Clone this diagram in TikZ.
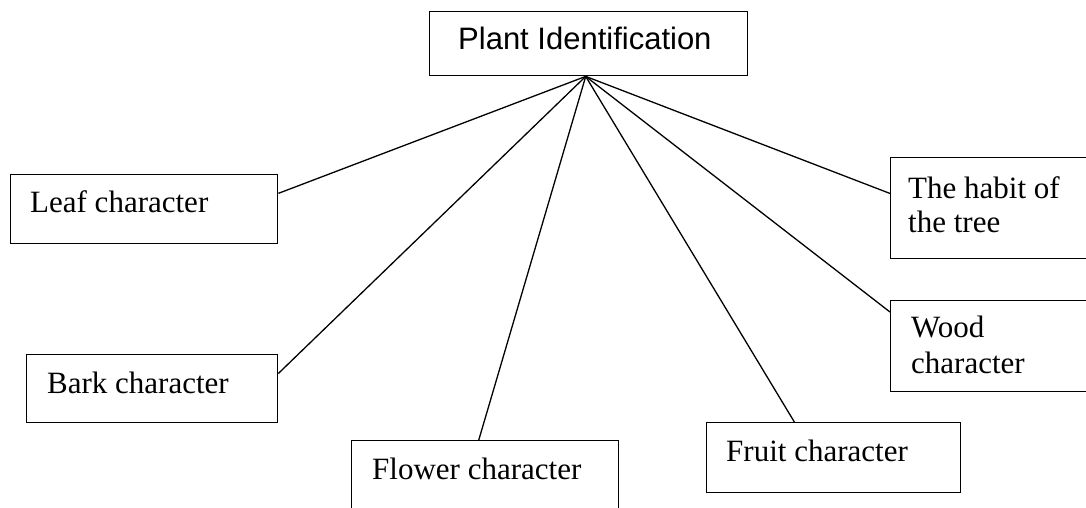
\documentclass[tikz,border=0pt]{standalone}
\usepackage{fontspec}
\setmainfont{Liberation Serif}
\newfontfamily\titlefont{Liberation Sans}
\usetikzlibrary{calc}
\begin{document}
\begin{tikzpicture}[x=1pt,y=-1pt,
  box/.style={draw, line width=1.4pt, rectangle, inner sep=0pt, anchor=north west},
  label/.style={anchor=base west, inner sep=0pt, align=left,
                font=\fontsize{31}{34}\selectfont},
  link/.style={line width=1.3pt}]
\useasboundingbox (0,0) rectangle (1086,508);
\clip (0,0) rectangle (1086,508);

% frames
\node[box, minimum width=318pt, minimum height=64pt]  (root)   at (429,11)  {};
\node[box, minimum width=267pt, minimum height=69pt]  (leaf)   at (10,174)  {};
\node[box, minimum width=251pt, minimum height=68pt]  (bark)   at (26,354)  {};
\node[box, minimum width=267pt, minimum height=100pt] (flower) at (351,440) {};
\node[box, minimum width=254pt, minimum height=70pt]  (fruit)  at (706,422) {};
\node[box, minimum width=210pt, minimum height=91pt]  (wood)   at (890,300) {};
\node[box, minimum width=210pt, minimum height=101pt] (habit)  at (890,157) {};

% texts (multi-line labels are placed by the baseline of their last line)
\node[label, font=\titlefont\fontsize{31}{34}\selectfont] (roottext) at (458,50) {Plant Identification};
\node[label] (leaftext)   at (30,212)  {Leaf character};
\node[label] (barktext)   at (47,393)  {Bark character};
\node[label] (flowertext) at (372,479) {Flower character};
\node[label] (fruittext)  at (726,461) {Fruit character};
\node[label] (habittext)  at (908,232) {The habit of\\the tree};
\node[label, font=\fontsize{31}{36}\selectfont] (woodtext) at (911,373) {Wood\\character};

% spokes from the title frame
\coordinate (hub) at ($(root.south)+(-3,0)$);
\draw[link] (hub) -- ($(leaf.north east)!0.275!(leaf.south east)$);
\draw[link] (hub) -- ($(bark.north east)!0.28!(bark.south east)$);
\draw[link] (hub) -- ($(flower.north west)!0.476!(flower.north east)$);
\draw[link] (hub) -- ($(fruit.north west)!0.346!(fruit.north east)$);
\draw[link] (hub) -- ($(wood.north west)!0.13!(wood.south west)$);
\draw[link] (hub) -- ($(habit.north west)!0.356!(habit.south west)$);
\end{tikzpicture}
\end{document}
